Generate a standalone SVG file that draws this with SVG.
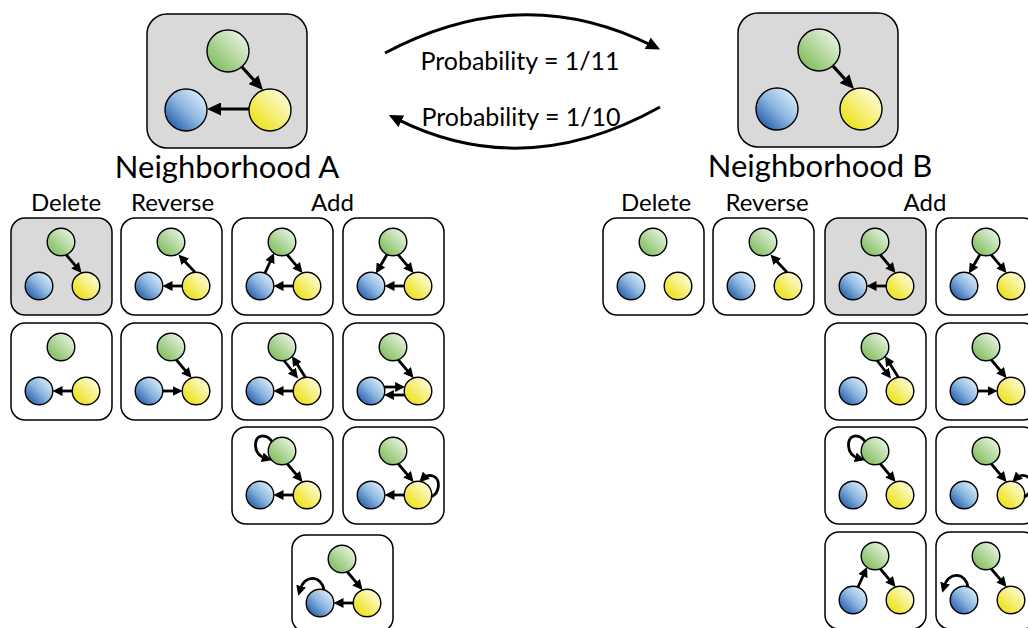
<svg xmlns="http://www.w3.org/2000/svg" xmlns:xlink="http://www.w3.org/1999/xlink" width="1028" height="628" viewBox="0 0 1028 628">
  <style>
    .box { fill: #ffffff; stroke: #000000; stroke-width: 1.5; }
    .box.on { fill: #d9d9d9; }
    .n { stroke: #000000; stroke-width: 1.4; }
    .e { fill: none; stroke: #000000; stroke-width: 2.8; marker-end: url(#hs); }
    .eb { fill: none; stroke: #000000; stroke-width: 3.2; marker-end: url(#hb); }
    .link { fill: none; stroke: #000000; stroke-width: 3; marker-end: url(#hb); }
    text { font-family: Lato, "Open Sans", "Liberation Sans", sans-serif; fill: #000000; text-anchor: middle; }
    .title { font-size: 31px; }
    .op { font-size: 24px; }
    .prob { font-size: 25px; }
  </style>
  <defs>
    <linearGradient id="gG" x1="0.15" y1="0.85" x2="0.85" y2="0.15">
      <stop offset="0" stop-color="#84bf62"/>
      <stop offset="1" stop-color="#e4f1dc"/>
    </linearGradient>
    <linearGradient id="gB" x1="0.15" y1="0.85" x2="0.85" y2="0.15">
      <stop offset="0" stop-color="#2f66b0"/>
      <stop offset="0.5" stop-color="#8cb6e0"/>
      <stop offset="1" stop-color="#d5e8f7"/>
    </linearGradient>
    <linearGradient id="gY" x1="0.15" y1="0.85" x2="0.85" y2="0.15">
      <stop offset="0" stop-color="#eee21c"/>
      <stop offset="1" stop-color="#fdfbd4"/>
    </linearGradient>

    <marker id="hs" markerUnits="userSpaceOnUse" markerWidth="10" markerHeight="10" viewBox="0 0 10 10" refX="4" refY="5" orient="auto">
      <path d="M0,0 L10,5 L0,10 z" fill="#000000"/>
    </marker>
    <marker id="hb" markerUnits="userSpaceOnUse" markerWidth="14" markerHeight="13" viewBox="0 0 14 13" refX="6" refY="6.5" orient="auto">
      <path d="M0,0 L14,6.5 L0,13 z" fill="#000000"/>
    </marker>

    <!-- three variables, small card layout -->
    <g id="trio">
      <circle class="n" cx="50" cy="24" r="13.8" fill="url(#gG)"/>
      <circle class="n" cx="28" cy="68" r="13.8" fill="url(#gB)"/>
      <circle class="n" cx="75" cy="68" r="13.8" fill="url(#gY)"/>
    </g>
    <!-- three variables, large card layout -->
    <g id="trioBig">
      <circle class="n" cx="81" cy="37" r="21" fill="url(#gG)"/>
      <circle class="n" cx="39" cy="96" r="21" fill="url(#gB)"/>
      <circle class="n" cx="123" cy="96" r="21" fill="url(#gY)"/>
    </g>

    <!-- edge shapes for small cards (g = green, b = blue, y = yellow) -->
    <path id="gy" d="M55,36.5 L66.7,50.35"/>
    <path id="yg" d="M74,54.2 L61.56,40.92"/>
    <path id="yb" d="M61.2,68 L47.5,68"/>
    <path id="by" d="M41.8,68 L55.5,68"/>
    <path id="gb" d="M44,36.5 L35.95,50.27"/>
    <path id="bg" d="M33,55 L39.57,40.48"/>
    <path id="gy2" d="M52,37.5 L62.34,50.74"/>
    <path id="yg2" d="M73.5,54.4 L63.17,38.09"/>
    <path id="by2" d="M41,64 L56.1,64"/>
    <path id="yb2" d="M62,72 L46.9,72"/>
    <path id="lg" d="M40.5,15 C34,6 23,7 23.5,19 C24,27 29,30 34,31.5"/>
    <path id="ly" d="M88,70 C97,66 98,52 90,49 C86,47.5 83,48.5 80.5,51"/>
    <path id="lb" d="M32,55 C30,41 13,38 8,55"/>
  </defs>

  <!-- neighborhood A -->
  <g id="neighborhood-a" transform="translate(147,14)">
    <rect class="box on" x="0" y="0" width="160" height="134" rx="20"/>
    <use href="#trioBig"/>
    <path class="eb" d="M94.5,52.5 L110.6,70.1"/>
    <path class="eb" d="M102,95 L68,95"/>
  </g>
  <text class="title" x="227" y="178">Neighborhood A</text>

  <!-- neighborhood B -->
  <g id="neighborhood-b" transform="translate(738,13)">
    <rect class="box on" x="0" y="0" width="160" height="134" rx="20"/>
    <use href="#trioBig"/>
    <path class="eb" d="M94.5,52.5 L110.6,70.1"/>
  </g>
  <text class="title" x="820" y="177">Neighborhood B</text>

  <!-- moves between the two neighborhoods -->
  <g id="connectors">
    <path id="link-a-b" class="link" d="M385,53 Q522,-20 653,46"/>
    <path id="link-b-a" class="link" d="M660,107 Q524,183 396,118.6"/>
  </g>
  <text class="prob" x="520" y="70">Probability = 1/11</text>
  <text class="prob" x="521" y="126">Probability = 1/10</text>

  <!-- column headings -->
  <text class="op" x="66" y="211">Delete</text>
  <text class="op" x="172.5" y="211">Reverse</text>
  <text class="op" x="332.5" y="211">Add</text>
  <text class="op" x="656" y="211">Delete</text>
  <text class="op" x="767" y="211">Reverse</text>
  <text class="op" x="925" y="211">Add</text>

  <!-- neighbors of A -->
  <g id="a-delete-1" class="e" transform="translate(11,218)">
    <rect class="box on" width="101" height="97" rx="14"/>
    <use href="#trio"/>
    <use href="#gy"/>
  </g>
  <g id="a-reverse-1" class="e" transform="translate(121,218)">
    <rect class="box" width="101" height="97" rx="14"/>
    <use href="#trio"/>
    <use href="#yg"/><use href="#yb"/>
  </g>
  <g id="a-add-1" class="e" transform="translate(232,218)">
    <rect class="box" width="101" height="97" rx="14"/>
    <use href="#trio"/>
    <use href="#bg"/><use href="#gy"/><use href="#yb"/>
  </g>
  <g id="a-add-2" class="e" transform="translate(343,218)">
    <rect class="box" width="101" height="97" rx="14"/>
    <use href="#trio"/>
    <use href="#gb"/><use href="#gy"/><use href="#yb"/>
  </g>
  <g id="a-delete-2" class="e" transform="translate(11,323)">
    <rect class="box" width="101" height="97" rx="14"/>
    <use href="#trio"/>
    <use href="#yb"/>
  </g>
  <g id="a-reverse-2" class="e" transform="translate(121,323)">
    <rect class="box" width="101" height="97" rx="14"/>
    <use href="#trio"/>
    <use href="#gy"/><use href="#by"/>
  </g>
  <g id="a-add-3" class="e" transform="translate(232,323)">
    <rect class="box" width="101" height="97" rx="14"/>
    <use href="#trio"/>
    <use href="#gy2"/><use href="#yg2"/><use href="#yb"/>
  </g>
  <g id="a-add-4" class="e" transform="translate(343,323)">
    <rect class="box" width="101" height="97" rx="14"/>
    <use href="#trio"/>
    <use href="#gy"/><use href="#by2"/><use href="#yb2"/>
  </g>
  <g id="a-add-5" class="e" transform="translate(232,427)">
    <rect class="box" width="101" height="97" rx="14"/>
    <use href="#trio"/>
    <use href="#lg"/><use href="#gy"/><use href="#yb"/>
  </g>
  <g id="a-add-6" class="e" transform="translate(343,427)">
    <rect class="box" width="101" height="97" rx="14"/>
    <use href="#trio"/>
    <use href="#gy"/><use href="#ly"/><use href="#yb"/>
  </g>
  <g id="a-add-7" class="e" transform="translate(292,535)">
    <rect class="box" width="101" height="97" rx="14"/>
    <use href="#trio"/>
    <use href="#gy"/><use href="#yb"/><use href="#lb"/>
  </g>

  <!-- neighbors of B -->
  <g id="b-delete-1" class="e" transform="translate(603,218)">
    <rect class="box" width="101" height="97" rx="14"/>
    <use href="#trio"/>
  </g>
  <g id="b-reverse-1" class="e" transform="translate(713,218)">
    <rect class="box" width="101" height="97" rx="14"/>
    <use href="#trio"/>
    <use href="#yg"/>
  </g>
  <g id="b-add-1" class="e" transform="translate(825,218)">
    <rect class="box on" width="101" height="97" rx="14"/>
    <use href="#trio"/>
    <use href="#gy"/><use href="#yb"/>
  </g>
  <g id="b-add-2" class="e" transform="translate(936,218)">
    <rect class="box" width="101" height="97" rx="14"/>
    <use href="#trio"/>
    <use href="#gb"/><use href="#gy"/>
  </g>
  <g id="b-add-3" class="e" transform="translate(825,323)">
    <rect class="box" width="101" height="97" rx="14"/>
    <use href="#trio"/>
    <use href="#gy2"/><use href="#yg2"/>
  </g>
  <g id="b-add-4" class="e" transform="translate(936,323)">
    <rect class="box" width="101" height="97" rx="14"/>
    <use href="#trio"/>
    <use href="#gy"/><use href="#by"/>
  </g>
  <g id="b-add-5" class="e" transform="translate(825,427)">
    <rect class="box" width="101" height="97" rx="14"/>
    <use href="#trio"/>
    <use href="#lg"/><use href="#gy"/>
  </g>
  <g id="b-add-6" class="e" transform="translate(936,427)">
    <rect class="box" width="101" height="97" rx="14"/>
    <use href="#trio"/>
    <use href="#gy"/><use href="#ly"/>
  </g>
  <g id="b-add-7" class="e" transform="translate(825,532)">
    <rect class="box" width="101" height="97" rx="14"/>
    <use href="#trio"/>
    <use href="#bg"/><use href="#gy"/>
  </g>
  <g id="b-add-8" class="e" transform="translate(936,532)">
    <rect class="box" width="101" height="97" rx="14"/>
    <use href="#trio"/>
    <use href="#lb"/><use href="#gy"/>
  </g>
</svg>
